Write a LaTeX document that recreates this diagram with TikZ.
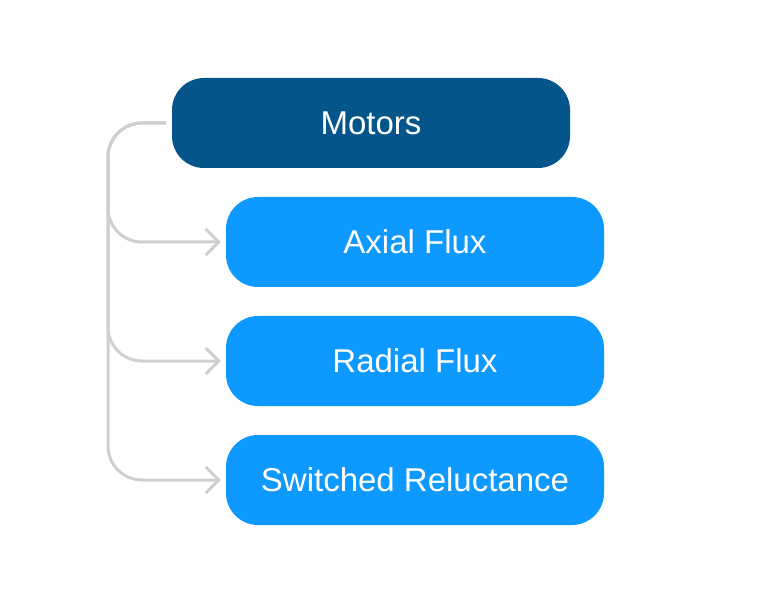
\documentclass[tikz,border=0pt]{standalone}
\usepackage{fontspec}
\setmainfont{Liberation Sans}
\usetikzlibrary{arrows.meta}
\definecolor{darkbox}{HTML}{03558A}
\definecolor{lightbox}{HTML}{0D99FF}
\definecolor{connc}{HTML}{CFCFCF}
\begin{document}
\begin{tikzpicture}[x=1pt,y=-1pt,
  box/.style={rounded corners=32pt, minimum width=398pt, minimum height=90pt, inner sep=0pt, text=white, font=\fontsize{33}{40}\selectfont},
  parentbox/.style={box, fill=darkbox},
  childbox/.style={box, fill=lightbox, minimum width=378pt},
  conn/.style={draw=connc, line width=3pt, rounded corners=34pt, -{Straight Barb[length=13pt,width=26pt,line width=3pt]}}]
\useasboundingbox (0,0) rectangle (776,601);
\node[parentbox] (motors) at (371,123) {Motors};
\node[childbox] (axial) at (415,242) {Axial Flux};
\node[childbox] (radial) at (415,361) {Radial Flux};
\node[childbox] (switched) at (415,480) {Switched Reluctance};
\coordinate (trunk) at (108,124);
\foreach \c in {axial,radial,switched}{
  \draw[conn] ([xshift=-6pt]motors.west) -| (trunk |- \c.west) -- ([xshift=-5pt]\c.west);
}
\end{tikzpicture}
\end{document}
